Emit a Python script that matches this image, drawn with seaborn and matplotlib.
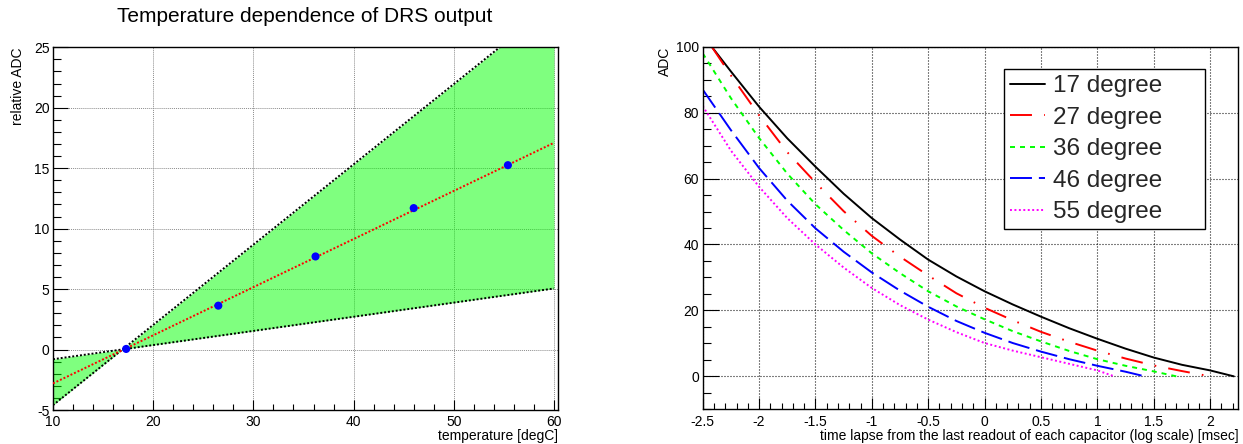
import matplotlib
matplotlib.use("Agg")
import matplotlib.pyplot as plt
import seaborn as sns
from matplotlib.ticker import MultipleLocator, FuncFormatter

# ---- left panel: ADC offset versus temperature ----
temperature = [17.3, 26.5, 36.2, 46.0, 55.4]
relative_adc = [0.05, 3.63, 7.7, 11.7, 15.25]
fit_x = [10, 60]
fit_y = [-2.8, 17.1]
band_x = [10, 60]
band_steep = [-4.6, 28.6]
band_shallow = [-0.8, 5.05]

# ---- right panel: ADC versus log10 of time since last readout ----
x17 = [-2.42, -2.25, -2.0, -1.75, -1.5, -1.25, -1.0, -0.75, -0.5, -0.25,
       0.0, 0.25, 0.5, 0.75, 1.0, 1.25, 1.5, 1.75, 2.0, 2.21]
adc17 = [100, 92.5, 81.8, 72.2, 63.6, 55.4, 48.0, 41.5, 35.4, 30.3,
         25.8, 21.8, 18.1, 14.6, 11.4, 8.4, 5.7, 3.5, 1.8, 0.0]
x27 = [-2.42, -2.25, -2.0, -1.75, -1.5, -1.25, -1.0, -0.75, -0.5, -0.25,
       0.0, 0.25, 0.5, 0.75, 1.0, 1.25, 1.5, 1.75, 2.0]
adc27 = [100, 91.3, 79.2, 68.0, 58.8, 50.1, 42.6, 36.3, 30.6, 25.2,
         20.8, 17.0, 13.5, 10.5, 7.8, 5.4, 3.3, 1.6, 0.0]
x36 = [-2.5, -2.25, -2.0, -1.75, -1.5, -1.25, -1.0, -0.75, -0.5, -0.25,
       0.0, 0.25, 0.5, 0.75, 1.0, 1.25, 1.5, 1.7]
adc36 = [98, 84.4, 72.3, 61.5, 52.2, 44.4, 37.3, 31.3, 25.8, 21.2,
         17.3, 13.7, 10.6, 7.7, 5.2, 3.2, 1.5, 0.0]
x46 = [-2.5, -2.25, -2.0, -1.75, -1.5, -1.25, -1.0, -0.75, -0.5, -0.25,
       0.0, 0.25, 0.5, 0.75, 1.0, 1.25, 1.42]
adc46 = [87, 74.7, 63.2, 53.3, 44.9, 37.8, 31.5, 26.0, 21.1, 16.8,
         13.2, 10.1, 7.5, 5.2, 3.2, 1.4, 0.0]
x55 = [-2.5, -2.25, -2.0, -1.75, -1.5, -1.25, -1.0, -0.75, -0.5, -0.25,
       0.0, 0.25, 0.5, 0.75, 1.0, 1.15]
adc55 = [82, 68.5, 57.5, 48.0, 40.0, 33.0, 26.8, 21.6, 17.2, 13.4,
         10.1, 7.8, 5.8, 3.8, 1.8, 0.0]
series_labels = ["17 degree", "27 degree", "36 degree", "46 degree", "55 degree"]

sns.set_theme(style="white")
plt.rcParams["font.family"] = ["Liberation Sans", "DejaVu Sans"]
plt.rcParams["axes.unicode_minus"] = False
plt.rcParams["lines.scale_dashes"] = False

W, H = 1243, 444
fig = plt.figure(figsize=(W / 100, H / 100), dpi=100)


def add_px_axes(left, top, right, bottom):
    return fig.add_axes([left / W, 1 - bottom / H, (right - left) / W, (bottom - top) / H])


ax1 = add_px_axes(53, 47.3, 558, 410)
ax2 = add_px_axes(702.7, 46.7, 1238.3, 409.3)

fmt = FuncFormatter(lambda v, _: f"{v:g}")

# ---- left panel ----
ax1.fill_between(band_x, band_steep, band_shallow, color="#00ff00", alpha=0.5,
                 linewidth=0, zorder=1)
sns.lineplot(x=band_x, y=band_steep, ax=ax1, color="black", lw=1.4,
             linestyle=(0, (1.4, 1.4)), zorder=2)
sns.lineplot(x=band_x, y=band_shallow, ax=ax1, color="black", lw=1.4,
             linestyle=(0, (1.4, 1.4)), zorder=2)
sns.lineplot(x=fit_x, y=fit_y, ax=ax1, color="red", lw=1.4,
             linestyle=(0, (1.4, 1.4)), zorder=3)
sns.scatterplot(x=temperature, y=relative_adc, ax=ax1, color="blue", s=34,
                edgecolor="none", zorder=4)

ax1.set_xlim(10, 60.4)
ax1.set_ylim(-5, 25)
ax1.xaxis.set_major_locator(MultipleLocator(10))
ax1.xaxis.set_minor_locator(MultipleLocator(2))
ax1.yaxis.set_major_locator(MultipleLocator(5))
ax1.yaxis.set_minor_locator(MultipleLocator(1))
ax1.xaxis.set_major_formatter(fmt)
ax1.yaxis.set_major_formatter(fmt)
ax1.set_axisbelow(True)
ax1.grid(True, which="major", color="#8c8c8c", linestyle=(0, (0.7, 0.7)), lw=0.7)
ax1.tick_params(which="both", direction="in", bottom=True, left=True, top=False,
                right=False, color="black", width=0.8, labelsize=10, labelcolor="black")
ax1.tick_params(axis="y", which="major", length=10.8, pad=2.5)
ax1.tick_params(axis="y", which="minor", length=6)
ax1.tick_params(axis="x", which="major", length=7.2, pad=3.5)
ax1.tick_params(axis="x", which="minor", length=4.3)
ax1.set_xlabel("temperature [degC]", loc="right", fontsize=10, color="black")
ax1.set_ylabel("relative ADC", loc="top", fontsize=10, color="black")
ax1.xaxis.set_label_coords(1.0, -0.052)
ax1.yaxis.set_label_coords(-0.056, 1.0)
fig.text(305 / W, 1 - 16 / H, "Temperature dependence of DRS output",
         fontsize=15, ha="center", va="center", color="black")

# ---- right panel ----
curves = [
    (x17, adc17, "black", "-"),
    (x27, adc27, "red", (0, (15.8, 8.8, 1.2, 8.8))),
    (x36, adc36, "#00ff00", (0, (3.6, 3.6))),
    (x46, adc46, "blue", (0, (15.8, 5.0))),
    (x55, adc55, "magenta", (0, (1.4, 1.8))),
]
for (xs, ys, col, ls), lab in zip(curves, series_labels):
    sns.lineplot(x=xs, y=ys, ax=ax2, color=col, lw=1.4, linestyle=ls, label=lab,
                 sort=False, errorbar=None)

ax2.set_xlim(-2.5, 2.25)
ax2.set_ylim(-10, 100)
ax2.xaxis.set_major_locator(MultipleLocator(0.5))
ax2.xaxis.set_minor_locator(MultipleLocator(0.1))
ax2.yaxis.set_major_locator(MultipleLocator(20))
ax2.yaxis.set_minor_locator(MultipleLocator(5))
ax2.xaxis.set_major_formatter(fmt)
ax2.yaxis.set_major_formatter(fmt)
ax2.set_axisbelow(True)
ax2.grid(True, which="major", color="black", linestyle=(0, (0.72, 1.44)), lw=0.8)
ax2.tick_params(which="both", direction="in", bottom=True, left=True, top=False,
                right=False, color="black", width=0.8, labelsize=10, labelcolor="black")
ax2.tick_params(axis="y", which="major", length=11.3, pad=2.7)
ax2.tick_params(axis="y", which="minor", length=5.8)
ax2.tick_params(axis="x", which="major", length=8, pad=4)
ax2.tick_params(axis="x", which="minor", length=4.3)
ax2.set_xlabel("time lapse from the last readout of each capacitor (log scale) [msec]",
               loc="right", fontsize=10, color="black")
ax2.set_ylabel("ADC", loc="top", fontsize=10, color="black")
ax2.xaxis.set_label_coords(1.0, -0.055)
ax2.yaxis.set_label_coords(-0.057, 1.0)

leg = ax2.legend(loc="upper left", bbox_to_anchor=(1004 / W, 1 - 69 / H, 201 / W, 0),
                 bbox_transform=fig.transFigure, mode="expand", fontsize=17.5,
                 handlelength=1.44, handletextpad=0.33, labelspacing=0.39,
                 borderpad=0.25, borderaxespad=0, frameon=True, fancybox=False,
                 framealpha=1)
leg.get_frame().set_edgecolor("black")
leg.get_frame().set_linewidth(1.0)

for ax in (ax1, ax2):
    for sp in ax.spines.values():
        sp.set_visible(True)
        sp.set_color("black")
        sp.set_linewidth(1.0)

fig.savefig("out.png", dpi=100)
